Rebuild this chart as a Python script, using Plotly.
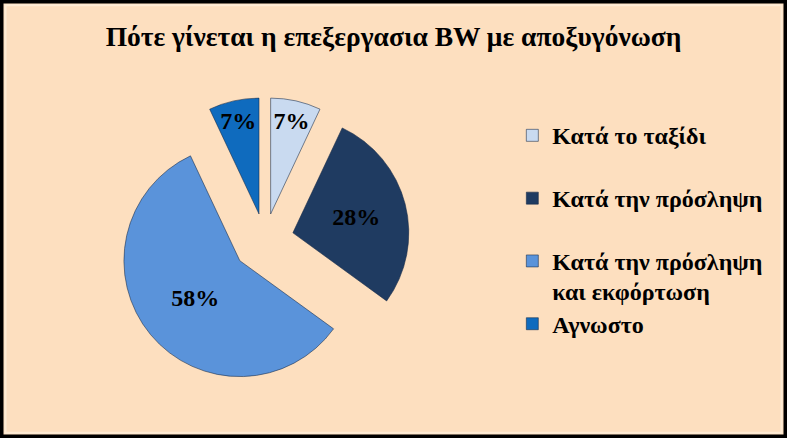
import plotly.graph_objects as go

# slices in clockwise order starting at 12 o'clock
labels = ['Κατά το ταξίδι', 'Κατά την πρόσληψη', 'Κατά την πρόσληψη<br>και εκφόρτωση', 'Αγνωστο']
values = [7, 28, 58, 7]
colors = ['#C9DAF0', '#1F3B61', '#5A93DA', '#0F6BBE']
pulls = [0.23, 0.25, 0.28, 0.23]

TITLE = 'Πότε γίνεται η επεξεργασια BW με αποξυγόνωση'
SERIF = 'Liberation Serif, Times New Roman, serif'

# legend spacing: pad single-line labels with an empty second line
def legend_label(l, pad=True):
    txt = '<span style="font-size:24px">' + l.replace('<br>', '</span><br><span style="font-size:24px">') + '</span>'
    if pad and '<br>' not in l:
        txt += '<br> '
    return txt

legend_labels = [legend_label(l, i < len(labels) - 1) for i, l in enumerate(labels)]

fig = go.Figure(
    go.Pie(
        labels=legend_labels,
        values=values,
        sort=False,
        direction='clockwise',
        rotation=0,
        pull=pulls,
        marker=dict(colors=colors, line=dict(color='rgba(20,40,70,0.55)', width=1)),
        textinfo='percent',
        textposition='inside',
        insidetextorientation='horizontal',
        textfont=dict(family=SERIF, size=24, color='black', weight='bold'),
        domain=dict(x=[0.148, 0.525], y=[0.113, 0.791]),
        hoverinfo='label+percent',
    )
)

fig.update_layout(
    width=787,
    height=438,
    margin=dict(l=0, r=0, t=0, b=0),
    paper_bgcolor='#FDDFBF',
    plot_bgcolor='#FDDFBF',
    uniformtext=dict(minsize=23, mode='show'),
    title=dict(
        text=TITLE,
        x=0.5,
        xanchor='center',
        y=0.918,
        yanchor='middle',
        font=dict(family=SERIF, size=27.5, color='black', weight='bold'),
    ),
    legend=dict(
        x=0.651,
        xanchor='left',
        y=0.74,
        yanchor='top',
        valign='top',
        bgcolor='rgba(0,0,0,0)',
        font=dict(family=SERIF, size=23, color='black', weight='bold'),
    ),
    shapes=[
        dict(type='rect', xref='paper', yref='paper', x0=0, y0=0, x1=1, y1=1,
             line=dict(color='black', width=7)),
        dict(type='rect', xref='paper', yref='paper', x0=0.007, y0=0.012, x1=0.993, y1=0.988,
             line=dict(color='rgba(255,240,220,0.8)', width=2)),
    ],
)

fig.write_html('out.html', config={'displayModeBar': False},
               post_script="document.body.style.margin='0';")
